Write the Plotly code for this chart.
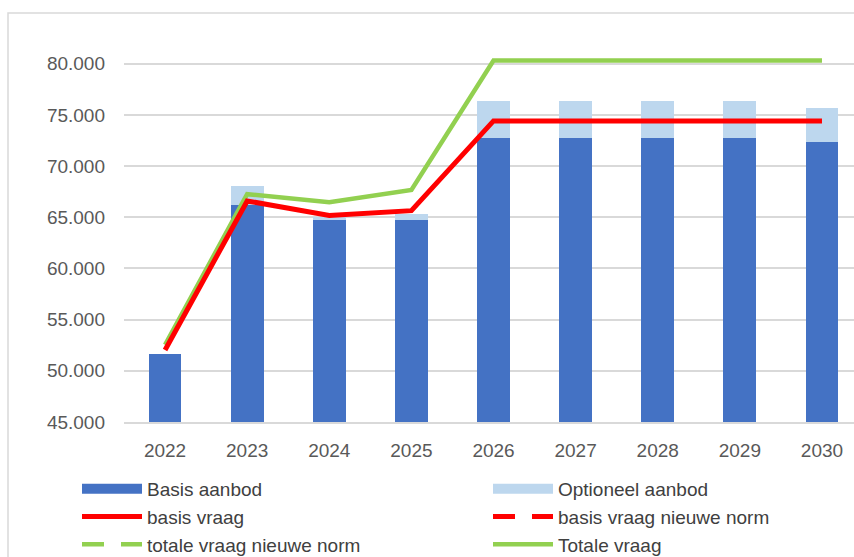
import plotly.graph_objects as go

years = ["2022", "2023", "2024", "2025", "2026", "2027", "2028", "2029", "2030"]
basis_aanbod = [51650, 66210, 64700, 64700, 72790, 72790, 72790, 72790, 72340]
optioneel_aanbod = [0, 1890, 300, 630, 3590, 3590, 3590, 3590, 3360]
basis_vraag = [52040, 66600, 65170, 65650, 74420, 74420, 74420, 74420, 74420]
totale_vraag = [52530, 67260, 66480, 67680, 80320, 80320, 80320, 80320, 80320]
basis_vraag_nieuwe_norm = [None] * 9
totale_vraag_nieuwe_norm = [None] * 9
empty = [None] * 9

FONT = "Liberation Sans"
GRID = "#d9d9d9"
BLUE = "#4472C4"
LIGHT = "#BDD7EE"
RED = "#FF0000"
GREEN = "#92D050"
DASH = "22px,17px"

fig = go.Figure()
fig.add_trace(go.Bar(x=years, y=basis_aanbod, name="Basis aanbod", showlegend=False,
                     marker=dict(color=BLUE, line=dict(width=0))))
fig.add_trace(go.Bar(x=years, y=optioneel_aanbod, name="Optioneel aanbod", showlegend=False,
                     marker=dict(color=LIGHT, line=dict(width=0))))
fig.add_trace(go.Scatter(x=years, y=totale_vraag, name="Totale vraag", mode="lines",
                         line=dict(color=GREEN, width=4.5), legend="legend2", legendrank=3))
fig.add_trace(go.Scatter(x=years, y=basis_vraag, name="basis vraag", mode="lines",
                         line=dict(color=RED, width=5), legend="legend", legendrank=2))
fig.add_trace(go.Scatter(x=years, y=basis_vraag_nieuwe_norm, name="basis vraag nieuwe norm",
                         mode="lines", line=dict(color=RED, width=5, dash=DASH),
                         legend="legend2", legendrank=2))
fig.add_trace(go.Scatter(x=years, y=totale_vraag_nieuwe_norm, name="totale vraag nieuwe norm",
                         mode="lines", line=dict(color=GREEN, width=4.5, dash=DASH),
                         legend="legend", legendrank=3))
# legend swatches for the bar series (wide rectangles like the original)
fig.add_trace(go.Scatter(x=years, y=empty, name="Basis aanbod", mode="lines",
                         line=dict(color=BLUE, width=12), legend="legend", legendrank=1,
                         hoverinfo="skip"))
fig.add_trace(go.Scatter(x=years, y=empty, name="Optioneel aanbod", mode="lines",
                         line=dict(color=LIGHT, width=12), legend="legend2", legendrank=1,
                         hoverinfo="skip"))

legend_common = dict(orientation="v", yanchor="top", xanchor="left", itemwidth=60,
                     yref="container", xref="paper",
                     tracegroupgap=0, traceorder="normal", bgcolor="rgba(0,0,0,0)",
                     font=dict(family=FONT, size=19, color="#404040"))

LEG_TOP = 470
fig.update_layout(
    width=854, height=557,
    margin=dict(l=124, r=0, t=30, b=135),
    barmode="stack", bargap=0.6,
    separators=",.",
    plot_bgcolor="white", paper_bgcolor="white",
    font=dict(family=FONT, size=19, color="#595959"),
    showlegend=True,
    legend=dict(x=(77 - 124) / 730, y=1 - LEG_TOP / 557, **legend_common),
    legend2=dict(x=(488 - 124) / 730, y=1 - LEG_TOP / 557, **legend_common),
    xaxis=dict(type="category", range=[-0.5, 8.39], showgrid=False, showline=True,
               linecolor=GRID, linewidth=1.5, ticks="", ticklabelstandoff=10,
               tickfont=dict(size=19, color="#595959"), fixedrange=True),
    yaxis=dict(range=[45000, 83300], tickvals=[45000, 50000, 55000, 60000, 65000, 70000, 75000, 80000],
               tickformat=",.0f", showgrid=True, gridcolor=GRID, gridwidth=1.5,
               zeroline=False, showline=False, ticks="", ticklabelstandoff=18,
               tickfont=dict(size=19, color="#595959")),
    shapes=[dict(type="rect", xref="paper", yref="paper",
                 x0=(8 - 124) / 730, x1=1.2, y0=-1, y1=(422 - 13) / 392,
                 line=dict(color="#d9d9d9", width=1.5), fillcolor="rgba(0,0,0,0)", layer="below")],
)

fig.write_html("out.html")
